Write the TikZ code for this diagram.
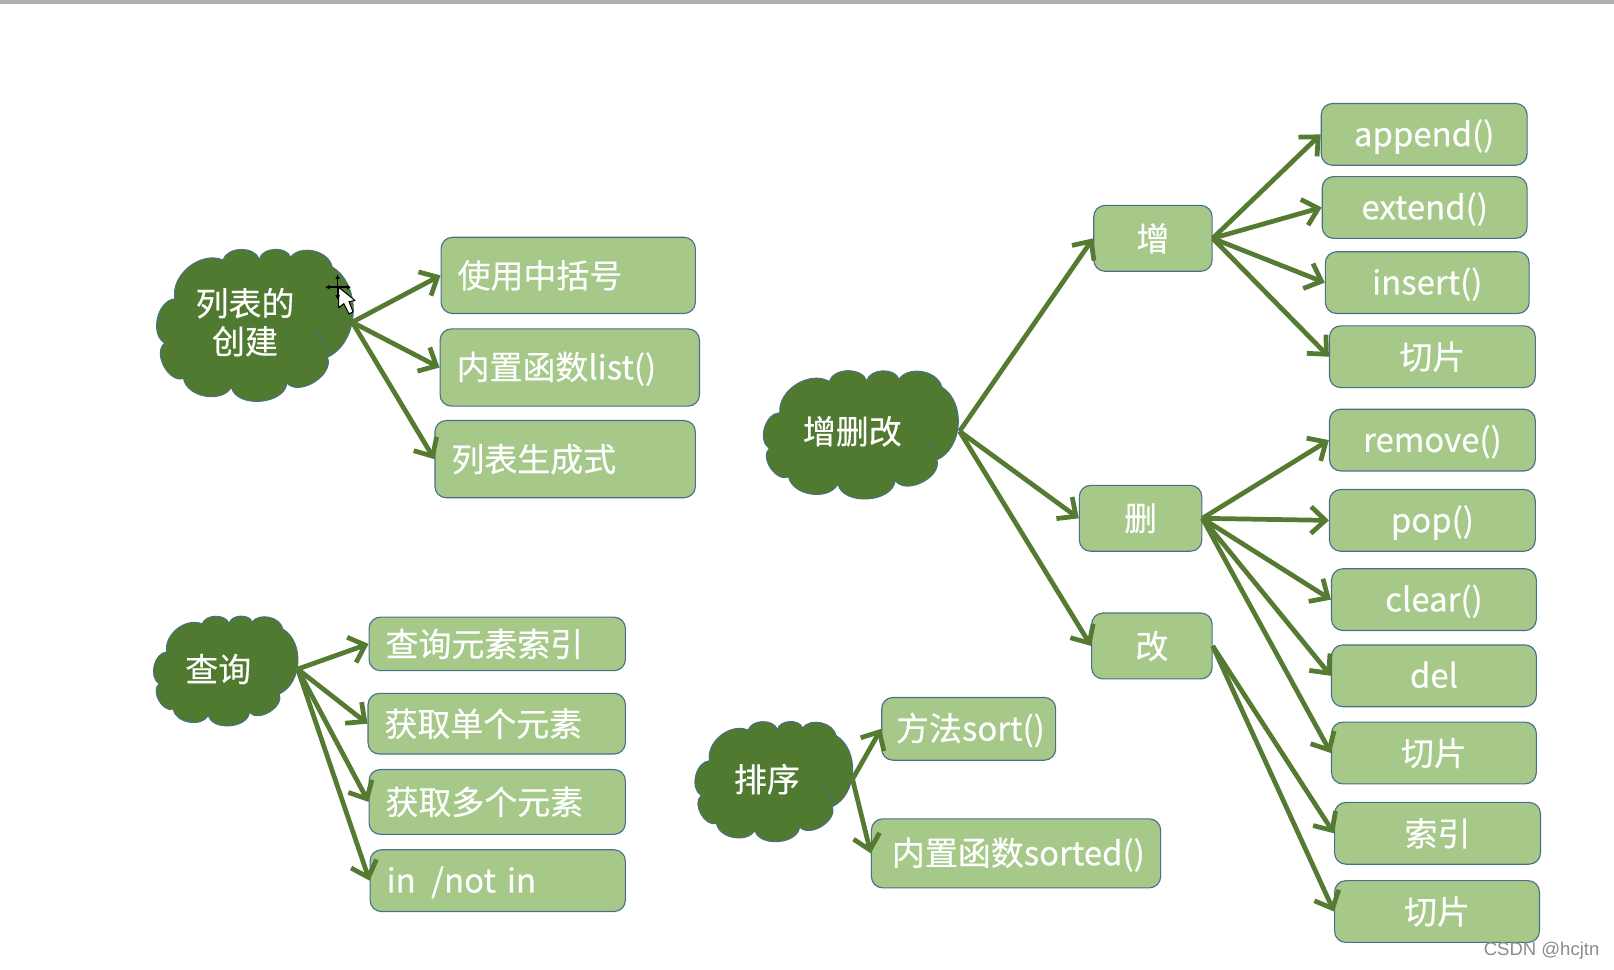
\documentclass[tikz,border=0pt]{standalone}
\usepackage{fontspec}
\setmainfont[FakeBold=0.35]{Noto Sans CJK SC}
\newfontfamily\wmfont{Liberation Sans}
\usetikzlibrary{arrows.meta}
\definecolor{boxfill}{HTML}{A6C98A}
\definecolor{boxline}{HTML}{4A7088}
\definecolor{cloudfill}{HTML}{4F7A30}
\definecolor{arrowc}{HTML}{557A32}
\tikzset{
  boxbase/.style={draw=boxline,line width=1.1pt,fill=boxfill,rounded corners=11pt,text=white,font=\fontsize{32}{36}\selectfont,inner sep=0pt},
  cloudnode/.style={text=white,font=\fontsize{32}{37}\selectfont,align=center,inner sep=0pt},
  cloudpath/.style={draw=boxline,line width=.9pt,fill=cloudfill,line join=round},
  link/.style={draw=arrowc,line width=4.6pt,-{Straight Barb[length=14pt,width=26pt,line width=4.6pt]}}
}
\newcommand{\cbox}[6]{%
  \pgfmathsetmacro{\bw}{#4-#2}\pgfmathsetmacro{\bh}{#5-#3}%
  \node[boxbase,minimum width=\bw pt,minimum height=\bh pt,anchor=north west] (#1) at (#2,#3) {#6};}
\newcommand{\lbox}[6]{%
  \pgfmathsetmacro{\bw}{#4-#2}\pgfmathsetmacro{\bh}{#5-#3}%
  \node[boxbase,minimum width=\bw pt,minimum height=\bh pt,anchor=north west,align=left,text width=\bw pt-16pt] (#1) at (#2,#3) {\hspace*{8pt}#6};}
\newcommand{\latin}[1]{\raisebox{0.5pt}[28pt][4pt]{#1}}
% silhouette of the cloud, fitted into x1 y1 x2 y2
\newcommand{\cloudshape}[4]{%
  \pgfmathsetmacro{\cw}{#3-#1}\pgfmathsetmacro{\ch}{#4-#2}%
  \begin{scope}[shift={(#1,#2)},x=\cw pt,y=-\ch pt]
    \path[cloudpath] (.097,.333) to[bend left=62] (.336,.097) to[bend left=70] (.518,.092)
      to[bend left=75] (.673,.08) to[bend left=65] (.881,.14) to[bend left=62] (.857,.688)
      to[bend left=80] (.655,.845) to[bend left=80] (.378,.871) to[bend left=70] (.14,.817)
      to[bend left=80] (.046,.602) to[bend left=72] cycle;
    \draw[boxline,line width=.6pt] (.857,.688) to[bend right=30] (.79,.53);
  \end{scope}}
\begin{document}
\begin{tikzpicture}[x=1pt,y=-1pt]
\useasboundingbox (0,0) rectangle (1568,942);
\fill[white] (0,0) rectangle (1568,942);
\fill[fill={rgb,255:red,173;green,176;blue,180}] (0,0) rectangle (1568,3.5);

% clouds
\cloudshape{151}{237}{346}{397}
\cloudshape{738}{358}{939}{487}
\cloudshape{148}{595}{292}{710}
\cloudshape{674}{697}{831}{823}
\node[cloudnode,minimum width=190pt,minimum height=40pt] (cA) at (247,313) {\hspace*{-18pt}列表的\\\hspace*{-18pt}创建};
\node[cloudnode,minimum width=191pt,minimum height=40pt] (cB) at (836.5,419) {\hspace*{-17pt}增删改};
\node[cloudnode,minimum width=140pt,minimum height=40pt] (cC) at (219,650) {\hspace*{-14pt}查询};
\node[cloudnode,minimum width=153pt,minimum height=40pt] (cD) at (751.5,757) {\hspace*{-13pt}排序};

% boxes
\lbox{a1}{428}{230}{675}{304}{使用中括号}
\lbox{a2}{427}{319}{679}{394}{\latin{内置函数list()}}
\lbox{a3}{422}{408}{675}{483}{列表生成式}
\lbox{q1}{358}{599}{607}{651}{查询元素索引}
\lbox{q2}{357}{673}{607}{732}{获取单个元素}
\lbox{q3}{358}{747}{607}{810}{获取多个元素}
\lbox{q4}{359}{825}{607}{885}{\latin{in\hspace{15pt}/not in}}
\lbox{s1}{856}{677}{1025}{738}{\hspace*{-2pt}\latin{方法sort()}}
\lbox{s2}{846}{795}{1127}{862}{\hspace*{4pt}\latin{内置函数sorted()}}
\cbox{z1}{1062}{199}{1177}{263}{增}
\cbox{z2}{1048}{471}{1167}{535}{删}
\cbox{z3}{1060}{595}{1177}{659}{改}
\cbox{i1}{1283}{100}{1483}{160}{\latin{append()}}
\cbox{i2}{1284}{171}{1483}{231}{\latin{extend()}}
\cbox{i3}{1287}{244}{1485}{304}{\latin{insert()}}
\cbox{i4}{1291}{316}{1491}{376}{切片}
\cbox{d1}{1291}{397}{1491}{457}{\latin{remove()}}
\cbox{d2}{1291}{475}{1491}{535}{\latin{pop()}}
\cbox{d3}{1293}{552}{1492}{612}{\latin{clear()}}
\cbox{d4}{1293}{626}{1492}{686}{\latin{del}}
\cbox{d5}{1293}{701}{1492}{761}{切片}
\cbox{u1}{1296}{779}{1496}{839}{索引}
\cbox{u2}{1296}{855}{1495}{915}{切片}

% connectors
\foreach \t in {a1,a2,a3} \draw[link] (cA.east) -- (\t.west);
\foreach \t in {q1,q2,q3,q4} \draw[link] (cC.east) -- (\t.west);
\foreach \t in {s1,s2} \draw[link] (cD.east) -- (\t.west);
\foreach \t in {z1,z2,z3} \draw[link] (cB.east) -- (\t.west);
\foreach \t in {i1,i2,i3,i4} \draw[link] (z1.east) -- (\t.west);
\foreach \t in {d1,d2,d3,d4,d5} \draw[link] (z2.east) -- (\t.west);
\foreach \t in {u1,u2} \draw[link] (z3.east) -- (\t.west);

% pointer from the screen capture
\draw[black,fill=white,line width=1pt,line join=round] (329,279) -- (329,299) -- (334,295) -- (339,305) -- (343,303) -- (339,293) -- (345,292) -- cycle;
\draw[black,line width=1.6pt,{Latex[length=4pt,width=5pt]}-{Latex[length=4pt,width=5pt]}] (316,279) -- (341,279);
\draw[black,line width=1.6pt,{Latex[length=4pt,width=5pt]}-{Latex[length=4pt,width=5pt]}] (328,267) -- (328,291);

% watermark
\node[text=black!45!white,font=\wmfont\fontsize{18}{20}\selectfont,anchor=east,inner sep=0pt] (wm) at (1554,924) {CSDN @hcjtn};
\end{tikzpicture}
\end{document}
